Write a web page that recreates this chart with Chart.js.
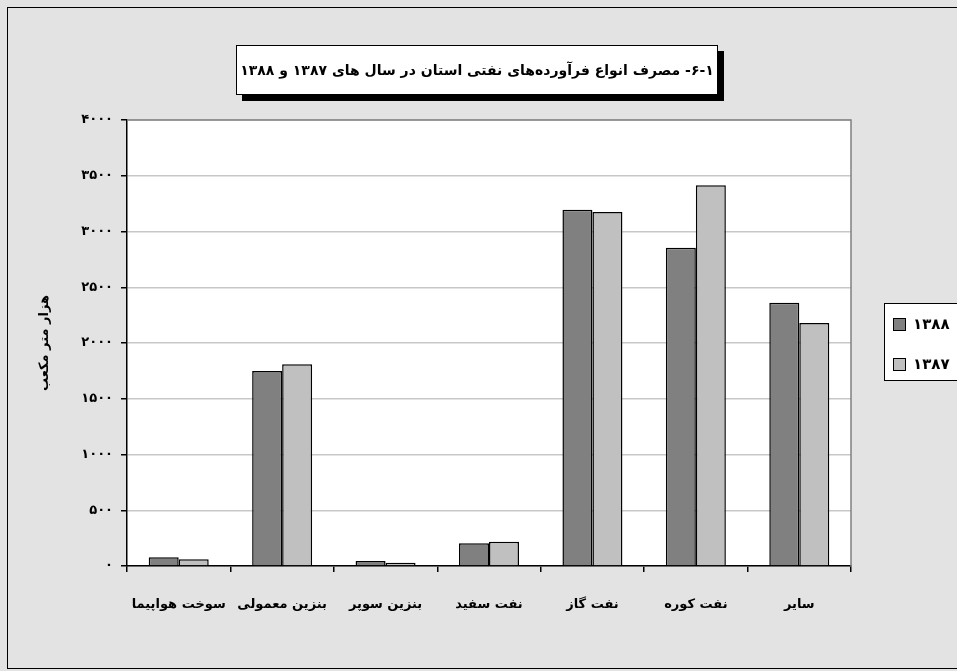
<!DOCTYPE html>
<html>
<head>
<meta charset="utf-8">
<script src="https://cdn.jsdelivr.net/npm/chart.js@4.4.1/dist/chart.umd.min.js"></script>
<style>
    body { margin: 0; background: #fff; }
    #wrap { position: relative; width: 957px; height: 671px; overflow: hidden; background: #e3e3e3; }
    #profitChart { position: absolute; left: 0; top: 0; }
    #frame { position: absolute; left: 7px; top: 7px; width: 980px; height: 662px; border: 1.5px solid #000; box-sizing: border-box; pointer-events: none; }
    #title-box {
        position: absolute; left: 236px; top: 45px; width: 482px; height: 50px;
        background: #fff; border: 1px solid #000; box-sizing: border-box;
        box-shadow: 6px 6px 0 #000;
        font: bold 14px "DejaVu Sans", sans-serif; direction: rtl; white-space: nowrap;
        display: flex; align-items: center; justify-content: center;
    }
    #legend-box {
        position: absolute; left: 884px; top: 303px; width: 90px; height: 78px;
        background: #fff; border: 1px solid #000; box-sizing: border-box;
        font: bold 15px "DejaVu Sans", sans-serif;
    }
    .leg-item { position: absolute; left: 8px; height: 14px; display: flex; align-items: center; }
    .leg-item span.box { width: 11px; height: 11px; border: 1px solid #000; margin-right: 7px; }
</style>
</head>
<body>
<div id="wrap">
    <canvas id="profitChart" width="957" height="671"></canvas>
    <div id="frame"></div>
    <div id="title-box"></div>
    <div id="legend-box"></div>
</div>
<script>
    // chart data
    const titleText = '۱\u200F-\u200F۶\u200F-\u200F مصرف انواع فرآورده‌های نفتی استان در سال های ۱۳۸۷ و ۱۳۸۸';
    const yAxisTitle = 'هزار متر مکعب';
    const categories = ['سوخت هواپیما', 'بنزین معمولی', 'بنزین سوپر', 'نفت سفید', 'نفت گاز', 'نفت کوره', 'سایر'];
    const seriesNames = ['۱۳۸۸', '۱۳۸۷'];
    const values1388 = [78, 1750, 45, 205, 3195, 2855, 2360];
    const values1387 = [60, 1810, 30, 218, 3175, 3415, 2180];
    const seriesColors = ['#808080', '#c0c0c0'];

    const faDigits = ['۰', '۱', '۲', '۳', '۴', '۵', '۶', '۷', '۸', '۹'];
    function toFa(n) {
        return String(n).replace(/[0-9]/g, function (d) { return faDigits[+d]; });
    }

    document.getElementById('title-box').textContent = titleText;

    // legend
    var legendBox = document.getElementById('legend-box');
    seriesNames.forEach(function (name, i) {
        var item = document.createElement('div');
        item.className = 'leg-item';
        item.style.top = (13 + i * 40) + 'px';
        item.innerHTML = '<span class="box" style="background:' + seriesColors[i] + '"></span><span>' + name + '</span>';
        legendBox.appendChild(item);
    });

    // white plot area with gray top/right edges
    const plotBackground = {
        id: 'plotBackground',
        beforeDraw: function (chart) {
            const a = chart.chartArea;
            const ctx = chart.ctx;
            ctx.save();
            ctx.fillStyle = '#fff';
            ctx.fillRect(a.left, a.top, a.right - a.left, a.bottom - a.top);
            ctx.restore();
        },
        afterDraw: function (chart) {
            const a = chart.chartArea;
            const ctx = chart.ctx;
            ctx.save();
            ctx.strokeStyle = '#808080';
            ctx.lineWidth = 1.5;
            ctx.beginPath();
            ctx.moveTo(a.left, a.top);
            ctx.lineTo(a.right, a.top);
            ctx.lineTo(a.right, a.bottom);
            ctx.stroke();
            ctx.restore();
        }
    };

    var ctx = document.getElementById('profitChart').getContext('2d');
    new Chart(ctx, {
        type: 'bar',
        data: {
            labels: categories,
            datasets: [
                {
                    label: seriesNames[0],
                    data: values1388,
                    backgroundColor: seriesColors[0],
                    borderColor: '#000',
                    borderWidth: 1.5
                },
                {
                    label: seriesNames[1],
                    data: values1387,
                    backgroundColor: seriesColors[1],
                    borderColor: '#000',
                    borderWidth: 1.5
                }
            ]
        },
        options: {
            responsive: false,
            animation: false,
            layout: { padding: { top: 120, right: 106, left: 0, bottom: 0 } },
            datasets: { bar: { barPercentage: 1, categoryPercentage: 0.58 } },
            plugins: {
                legend: { display: false },
                tooltip: { enabled: false }
            },
            scales: {
                x: {
                    afterFit: function (scale) { scale.height = 105; },
                    grid: { drawOnChartArea: false, offset: true, tickLength: 6, tickColor: '#000', lineWidth: 1.5 },
                    border: { color: '#000', width: 1.5 },
                    ticks: {
                        color: '#000',
                        padding: 25,
                        autoSkip: false,
                        maxRotation: 0,
                        font: { family: 'DejaVu Sans', size: 13, weight: 'bold' }
                    }
                },
                y: {
                    min: 0,
                    max: 4000,
                    afterFit: function (scale) { scale.width = 127; },
                    grid: { color: '#c8c8c8', tickColor: '#000', tickLength: 6, lineWidth: 1.5 },
                    border: { color: '#000', width: 1.5 },
                    ticks: {
                        stepSize: 500,
                        color: '#000',
                        padding: 8,
                        font: { family: 'DejaVu Sans', size: 13, weight: 'bold' },
                        callback: function (v) { return toFa(v); }
                    },
                    title: {
                        display: true,
                        text: yAxisTitle,
                        color: '#000',
                        padding: { top: 37 },
                        font: { family: 'DejaVu Sans', size: 13, weight: 'bold' }
                    }
                }
            }
        },
        plugins: [plotBackground]
    });
</script>
</body>
</html>
